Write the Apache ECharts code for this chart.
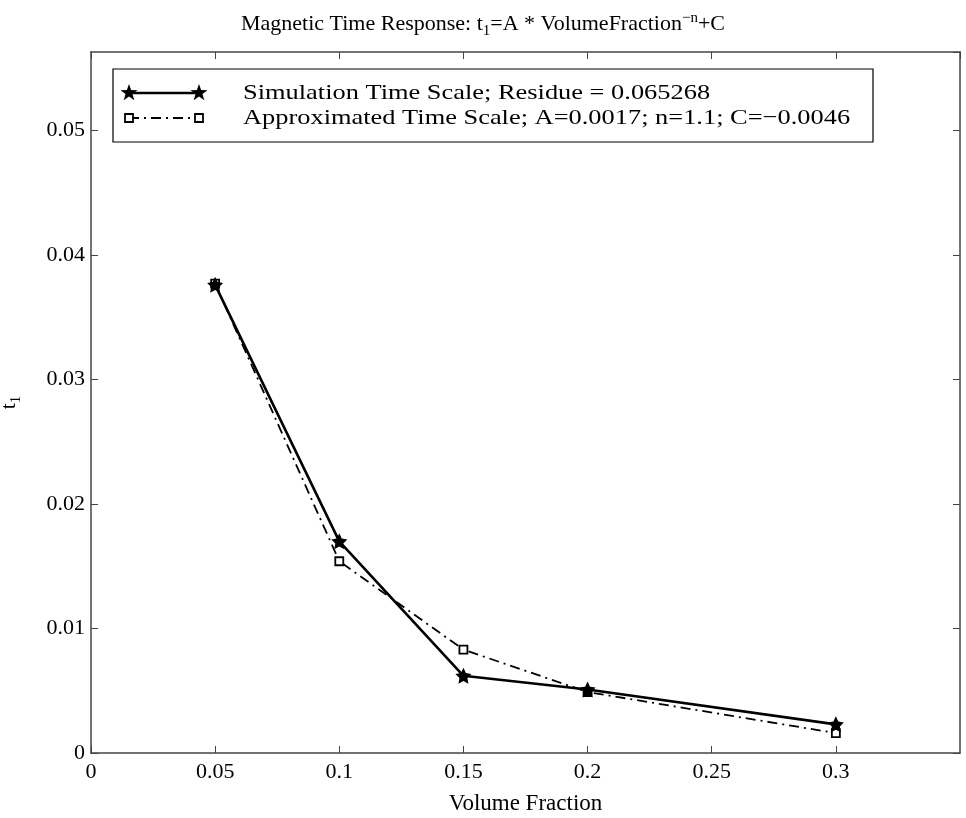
<!DOCTYPE html>
<html>
<head>
<meta charset="utf-8">
<script src="https://cdn.jsdelivr.net/npm/echarts@6/dist/echarts.min.js"></script>
<style>
  html, body { margin: 0; padding: 0; background: #fff; }
  #chart { width: 966px; height: 818px; }
</style>
</head>
<body>
<div id="chart"></div>
<script>
// data
const volumeFraction = [0.05, 0.1, 0.15, 0.2, 0.3];
const simulated = [0.0376, 0.0170, 0.0062, 0.0051, 0.0023];
const approximated = [0.0377, 0.0154, 0.0083, 0.0049, 0.0016];
const seriesNames = [
  "Simulation Time Scale; Residue = 0.065268",
  "Approximated Time Scale; A=0.0017; n=1.1; C=\u22120.0046",
];

const FONT = "Liberation Serif";
const AXIS = "#444";
const STAR = "path://M0,-10L2.94,-4.05L9.51,-3.09L4.76,1.55L5.88,8.09L0,5L-5.88,8.09L-4.76,1.55L-9.51,-3.09L-2.94,-4.05Z";

// star outline for the legend sample
function starPoints(cx, cy, r) {
  const pts = [];
  for (let i = 0; i < 10; i++) {
    const rr = i % 2 === 0 ? r : r * 0.4;
    const a = -Math.PI / 2 + (i * Math.PI) / 5;
    pts.push([cx + rr * Math.cos(a), cy + rr * Math.sin(a)]);
  }
  return pts;
}

const chart = echarts.init(document.getElementById("chart"));

const fmt = (v) => String(parseFloat(v.toFixed(2)));

const boxAxis = {
  axisLine: { show: true, onZero: false, lineStyle: { color: AXIS, width: 1.5 } },
  axisTick: { show: true, inside: true, length: 7, lineStyle: { color: AXIS } },
  splitLine: { show: false },
};

const option = {
  animation: false,
  title: {
    text: "Magnetic Time Response: t{sub|1}=A * VolumeFraction{sup|\u2212n}+C",
    left: "center",
    top: 5,
    textStyle: {
      fontFamily: FONT,
      fontSize: 22,
      fontWeight: "normal",
      color: "#000",
      rich: {
        sub: { fontFamily: FONT, fontSize: 15, color: "#000", padding: [14, 0, 0, 0] },
        sup: { fontFamily: FONT, fontSize: 15, color: "#000", padding: [0, 0, 12, 0] },
      },
    },
  },
  grid: { left: 91, right: 6, top: 52, bottom: 65, outerBoundsMode: "none" },
  xAxis: [
    {
      type: "value",
      min: 0,
      max: 0.35,
      interval: 0.05,
      name: "Volume Fraction",
      nameLocation: "middle",
      nameGap: 39,
      nameTextStyle: { fontFamily: FONT, fontSize: 23, color: "#000" },
      ...boxAxis,
      axisLabel: {
        fontFamily: FONT,
        fontSize: 22,
        color: "#000",
        margin: 8,
        showMaxLabel: false,
        formatter: fmt,
      },
    },
    {
      type: "value",
      position: "top",
      min: 0,
      max: 0.35,
      interval: 0.05,
      ...boxAxis,
      axisLabel: { show: false },
    },
  ],
  yAxis: [
    {
      type: "value",
      min: 0,
      max: 0.0563,
      interval: 0.01,
      name: "t{sub|1}",
      nameLocation: "middle",
      nameGap: 67,
      nameRotate: 90,
      nameTextStyle: {
        fontFamily: FONT,
        fontSize: 22,
        color: "#000",
        rich: { sub: { fontFamily: FONT, fontSize: 15, color: "#000", padding: [15, 0, 0, 0] } },
      },
      ...boxAxis,
      axisLabel: {
        fontFamily: FONT,
        fontSize: 22,
        color: "#000",
        margin: 6,
        showMaxLabel: false,
        formatter: fmt,
      },
    },
    {
      type: "value",
      position: "right",
      min: 0,
      max: 0.0563,
      interval: 0.01,
      ...boxAxis,
      axisLabel: { show: false },
    },
  ],
  series: [
    {
      name: seriesNames[1],
      type: "line",
      data: volumeFraction.map((x, i) => [x, approximated[i]]),
      symbol: "rect",
      symbolSize: 8,
      itemStyle: { color: "#fff", borderColor: "#000", borderWidth: 1.8 },
      lineStyle: { color: "#000", width: 1.8, type: [10, 5, 2, 5] },
      z: 2,
    },
    {
      name: seriesNames[0],
      type: "line",
      data: volumeFraction.map((x, i) => [x, simulated[i]]),
      symbol: STAR,
      symbolSize: 16,
      itemStyle: { color: "#000" },
      lineStyle: { color: "#000", width: 2.6 },
      z: 3,
    },
  ],
  graphic: [
    {
      type: "group",
      x: 113,
      y: 69,
      z: 100,
      children: [
        {
          type: "rect",
          shape: { x: 0, y: 0, width: 760, height: 73 },
          style: { fill: "#fff", stroke: "#000", lineWidth: 1.2 },
        },
        // simulation sample
        { type: "line", shape: { x1: 16, y1: 24, x2: 86, y2: 24 }, style: { stroke: "#000", lineWidth: 2.6 } },
        { type: "polygon", shape: { points: starPoints(16, 24, 9) }, style: { fill: "#000" } },
        { type: "polygon", shape: { points: starPoints(86, 24, 9) }, style: { fill: "#000" } },
        // approximated sample
        { type: "line", shape: { x1: 16, y1: 49, x2: 86, y2: 49 }, style: { stroke: "#000", lineWidth: 1.8, lineDash: [10, 5, 2, 5] } },
        { type: "rect", shape: { x: 12, y: 45, width: 8, height: 8 }, style: { fill: "#fff", stroke: "#000", lineWidth: 1.8 } },
        { type: "rect", shape: { x: 82, y: 45, width: 8, height: 8 }, style: { fill: "#fff", stroke: "#000", lineWidth: 1.8 } },
        {
          type: "text",
          x: 130,
          y: 24,
          scaleX: 1.2,
          style: { text: seriesNames[0], verticalAlign: "middle", font: "22px 'Liberation Serif'", fill: "#000" },
        },
        {
          type: "text",
          x: 130,
          y: 49,
          scaleX: 1.2,
          style: { text: seriesNames[1], verticalAlign: "middle", font: "22px 'Liberation Serif'", fill: "#000" },
        },
      ],
    },
  ],
};

chart.setOption(option);
</script>
</body>
</html>
